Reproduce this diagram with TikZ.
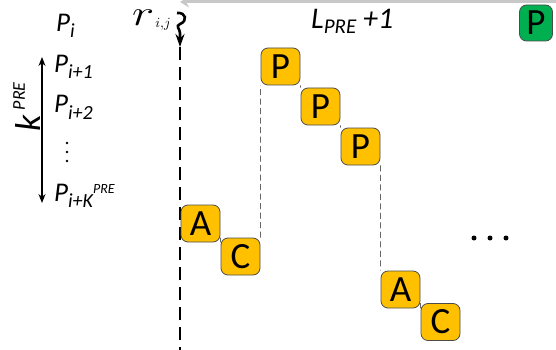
\documentclass[tikz,border=0pt]{standalone}
\usepackage{fontspec}
\setmainfont{Carlito}
\usetikzlibrary{arrows.meta}
\definecolor{boxgold}{HTML}{FFC000}
\definecolor{boxgreen}{HTML}{00B050}
\definecolor{rulegray}{HTML}{C8C8C8}
% subscript / superscript helpers for the italic labels
\newcommand\lsub[1]{\raisebox{-6pt}{\fontsize{20}{20}\selectfont #1}}
\newcommand\lsup[1]{\raisebox{14pt}{\fontsize{14}{14}\selectfont #1}}
\begin{document}
\begin{tikzpicture}[x=1pt,y=-1pt,
  block/.style={draw=black!70, line width=0.8pt, rounded corners=7pt,
    minimum width=39pt, minimum height=37pt, inner sep=0pt, fill=boxgold,
    font=\fontsize{37}{37}\selectfont},
  label/.style={inner sep=0pt, anchor=base west,
    font=\fontsize{27}{27}\selectfont\itshape},
  link/.style={draw=black!60, line width=0.7pt},
  dashlink/.style={link, dash pattern=on 6pt off 3.5pt},
  dotmark/.style={circle, fill=black, inner sep=0pt, minimum size=#1},
]
\useasboundingbox (0,0) rectangle (556,350);

% time-line rule along the top
\coordinate (ruleR) at (556,2);
\coordinate (ruleL) at (180,2);
\draw[rulegray, line width=3pt, -{Stealth[length=9pt,width=11pt]}] (ruleR) -- (ruleL);

% request arrival and the dashed lane below it
\coordinate (rtop) at (177,13);
\coordinate (rhead) at (180,47);
\coordinate (lanebot) at (180,350);
\draw[line width=2.6pt, -{Stealth[length=13pt,width=9pt]}]
  (rtop) .. controls (186,12) and (188,21) .. (180,24)
  .. controls (175,26) and (180,29) .. (180,33) -- (rhead);
\draw[line width=2.2pt, dash pattern=on 13pt off 7pt] (rhead) -- (lanebot);
\node[inner sep=0pt, anchor=base west] (rij) at (132,26)
  {\scalebox{1.9}[1.45]{\fontsize{24}{24}\selectfont$r$}\hspace{1pt}\raisebox{-2pt}{\scalebox{1.4}{$i{,}j$}}};

% priority list on the left
\node[label] (pi)  at (56,32)  {P\lsub{i}};
\node[label] (pi1) at (54,73)  {P\lsub{i+1}};
\node[label] (pi2) at (54,113) {P\lsub{i+2}};
\node[dotmark=2.6pt] (vd1) at (67,143) {};
\node[dotmark=2.6pt] (vd2) at (67,152) {};
\node[dotmark=2.6pt] (vd3) at (67,161) {};
\node[label] (pik) at (54,201) {P\lsub{i+K\lsup{PRE}}};
\coordinate (kup) at (42,57);
\coordinate (kdn) at (42,203);
\draw[line width=1.3pt, {Stealth[length=9pt,width=7pt]}-{Stealth[length=9pt,width=7pt]}] (kdn) -- (kup);
\node[inner sep=0pt, rotate=90, font=\itshape] (kpre) at (27,107)
  {{\fontsize{36}{36}\selectfont k}\hspace{5pt}\raisebox{16pt}{\fontsize{18}{18}\selectfont PRE}};

% window length
\node[label, font=\fontsize{30}{30}\selectfont\itshape] (lpre) at (311,29)
  {L\raisebox{-5pt}{\fontsize{21}{21}\selectfont PRE} +1};

% schedule blocks
\node[block, fill=boxgreen, minimum width=33pt, minimum height=36pt] (pg) at (536,23) {P};
\node[block] (p1) at (280.5,66.5)  {P};
\node[block] (p2) at (320.5,106.5) {P};
\node[block] (p3) at (360.5,146.5) {P};
\node[block] (a1) at (200.5,223.5) {A};
\node[block] (c1) at (240.5,256.5) {C};
\node[block] (a2) at (400.5,289.5) {A};
\node[block] (c2) at (440.5,322)   {C};

% connectors between consecutive blocks
\draw[link] (a1.south east) -- (c1.north west);
\draw[dashlink] (c1.north east) -- (p1.south west);
\draw[link] (p1.south east) -- (p2.north west);
\draw[link] (p2.south east) -- (p3.north west);
\draw[dashlink] (p3.south east) -- (a2.north west);
\draw[link] (a2.south east) -- (c2.north west);

% continuation dots
\node[dotmark=5pt] (e1) at (474,238) {};
\node[dotmark=5pt] (e2) at (490,238) {};
\node[dotmark=5pt] (e3) at (506,238) {};
\end{tikzpicture}
\end{document}
